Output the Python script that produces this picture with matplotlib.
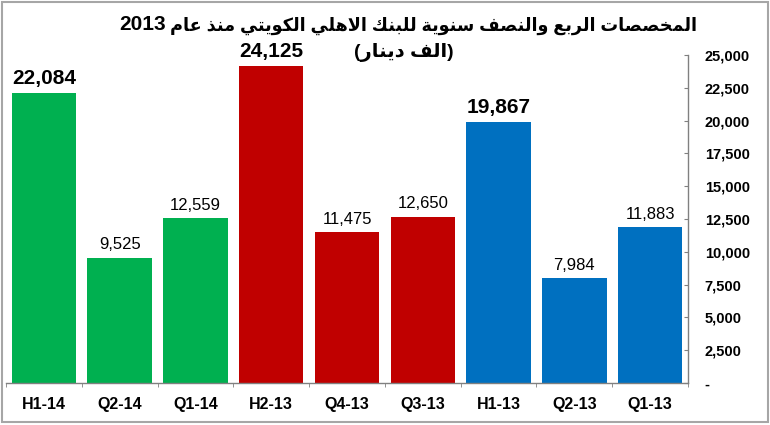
import matplotlib
matplotlib.use('Agg')
import matplotlib.pyplot as plt
from matplotlib.patches import Rectangle
from matplotlib.ticker import FuncFormatter, MultipleLocator

plt.rcParams['font.family'] = ['Liberation Sans', 'DejaVu Sans']

periods = ['H1-14', 'Q2-14', 'Q1-14', 'H2-13', 'Q4-13', 'Q3-13', 'H1-13', 'Q2-13', 'Q1-13']
values = [22084, 9525, 12559, 24125, 11475, 12650, 19867, 7984, 11883]
bar_colors = ['#00B050'] * 3 + ['#C00000'] * 3 + ['#0070C0'] * 3

title_ar = 'المخصصات الربع والنصف سنوية للبنك الاهلي الكويتي منذ عام'
title_year = '2013'
subtitle_ar = 'الف دينار'

# presentation forms: isolated, final, initial, medial
FORMS = {
    'ا': (0xFE8D, 0xFE8E, None, None),
    'ب': (0xFE8F, 0xFE90, 0xFE91, 0xFE92),
    'ة': (0xFE93, 0xFE94, None, None),
    'ت': (0xFE95, 0xFE96, 0xFE97, 0xFE98),
    'خ': (0xFEA5, 0xFEA6, 0xFEA7, 0xFEA8),
    'د': (0xFEA9, 0xFEAA, None, None),
    'ذ': (0xFEAB, 0xFEAC, None, None),
    'ر': (0xFEAD, 0xFEAE, None, None),
    'س': (0xFEB1, 0xFEB2, 0xFEB3, 0xFEB4),
    'ص': (0xFEB9, 0xFEBA, 0xFEBB, 0xFEBC),
    'ع': (0xFEC9, 0xFECA, 0xFECB, 0xFECC),
    'ف': (0xFED1, 0xFED2, 0xFED3, 0xFED4),
    'ك': (0xFED9, 0xFEDA, 0xFEDB, 0xFEDC),
    'ل': (0xFEDD, 0xFEDE, 0xFEDF, 0xFEE0),
    'م': (0xFEE1, 0xFEE2, 0xFEE3, 0xFEE4),
    'ن': (0xFEE5, 0xFEE6, 0xFEE7, 0xFEE8),
    'ه': (0xFEE9, 0xFEEA, 0xFEEB, 0xFEEC),
    'و': (0xFEED, 0xFEEE, None, None),
    'ي': (0xFEF1, 0xFEF2, 0xFEF3, 0xFEF4),
}


def shape(text):
    # join arabic letters and return them in visual (left-to-right) order
    out = []
    i, n = 0, len(text)
    prev_joins = False
    while i < n:
        c = text[i]
        if c not in FORMS:
            out.append(c)
            prev_joins = False
            i += 1
            continue
        if c == 'ل' and i + 1 < n and text[i + 1] == 'ا':
            out.append(chr(0xFEFC if prev_joins else 0xFEFB))
            prev_joins = False
            i += 2
            continue
        nxt = text[i + 1] if i + 1 < n else None
        iso, fin, ini, med = FORMS[c]
        next_joins = ini is not None and nxt in FORMS
        if prev_joins and next_joins:
            f = med
        elif prev_joins:
            f = fin
        elif next_joins:
            f = ini
        else:
            f = iso
        out.append(chr(f))
        prev_joins = next_joins
        i += 1
    return ''.join(out)[::-1]


fig = plt.figure(figsize=(7.7, 4.25), dpi=100)
ax = fig.add_axes([6 / 770, 1 - 383 / 425, 682 / 770, 328 / 425])

x = range(len(periods))
bars = ax.bar(x, values, width=0.85, color=bar_colors)

for i, (b, v) in enumerate(zip(bars, values)):
    big = periods[i].startswith('H')
    ax.annotate(f'{v:,}', (b.get_x() + b.get_width() / 2, v),
                xytext=(0, 4), textcoords='offset points', ha='center', va='bottom',
                fontsize=15 if big else 12, fontweight='bold' if big else 'normal',
                color='black')

ax.set_xlim(-0.5, len(periods) - 0.5)
ax.set_ylim(0, 25000)
ax.yaxis.set_major_locator(MultipleLocator(2500))
ax.yaxis.set_major_formatter(FuncFormatter(lambda v, p: '-' if v == 0 else f'{int(v):,}'))
ax.yaxis.tick_right()
ax.set_xticks(list(x))
ax.set_xticklabels(periods, fontsize=11.5, fontweight='bold')
ax.set_xticks([i + 0.5 for i in range(-1, len(periods))], minor=True)
ax.tick_params(axis='x', which='major', length=0, pad=10)
ax.tick_params(axis='x', which='minor', length=3, color='#808080', direction='out')
ax.tick_params(axis='y', which='major', length=3, color='#808080', direction='in',
               pad=12, labelsize=10.5)
for lab in ax.get_yticklabels():
    lab.set_fontweight('bold')

for s in ['top', 'left']:
    ax.spines[s].set_visible(False)
for s in ['bottom', 'right']:
    ax.spines[s].set_color('#808080')
    ax.spines[s].set_linewidth(1)

# title: arabic part right-aligned, year on the left (RTL reading order)
fig.text(697 / 770, 1 - 26 / 425, shape(title_ar),
         ha='right', va='center', fontsize=12.7, fontweight='bold')
fig.text(119 / 770, 1 - 25 / 425, title_year,
         ha='left', va='center', fontsize=15, fontweight='bold')
fig.text(404 / 770, 1 - 53 / 425, '(' + shape(subtitle_ar) + ')',
         ha='center', va='center', fontsize=14, fontweight='bold')

fig.patches.append(Rectangle((0.002, 0.006), 0.996, 0.99, transform=fig.transFigure,
                             fill=False, edgecolor='#A6A6A6', linewidth=1.5))

fig.savefig('out.png', dpi=100)
